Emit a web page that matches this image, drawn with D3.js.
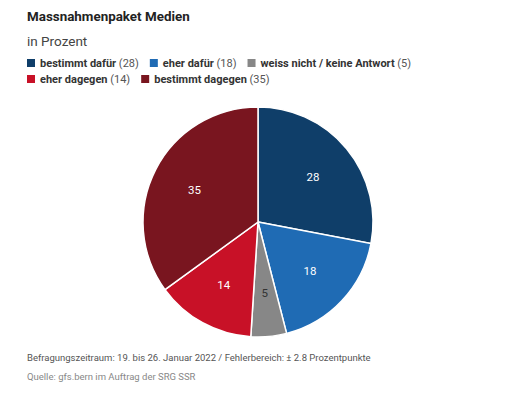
<!DOCTYPE html>
<html>
<head>
<meta charset="utf-8">
<script src="https://cdn.jsdelivr.net/npm/d3@7"></script>
<style>
  body { margin: 0; background: #fff; }
  svg { font-family: Roboto, sans-serif; }
</style>
</head>
<body>
<script>
var categories = ["bestimmt dafür", "eher dafür", "weiss nicht / keine Antwort", "eher dagegen", "bestimmt dagegen"];
var values = [28, 18, 5, 14, 35];
var colors = ["#0f3e69", "#1f6bb4", "#878787", "#c81127", "#79151f"];
var labelColors = ["#fff", "#fff", "#333", "#fff", "#fff"];
var legendRows = [[0, 1, 2], [3, 4]];

var width = 510, height = 394;
var svg = d3.select("body").append("svg").attr("width", width).attr("height", height);

svg.append("text").attr("x", 27).attr("y", 21)
  .attr("font-size", 13.4).attr("font-weight", 700).attr("fill", "#222")
  .text("Massnahmenpaket Medien");
svg.append("text").attr("x", 27).attr("y", 46)
  .attr("font-size", 13.5).attr("fill", "#444")
  .text("in Prozent");

// legend
legendRows.forEach(function (row, r) {
  var x = 27;
  var y = 67 + r * 16;
  row.forEach(function (i) {
    var g = svg.append("g").attr("transform", "translate(" + x + "," + y + ")");
    g.append("rect").attr("x", 0).attr("y", -8).attr("width", 8).attr("height", 8).attr("fill", colors[i]);
    var t = g.append("text").attr("x", 13).attr("y", 0).attr("font-size", 11).attr("fill", "#333");
    t.append("tspan").attr("font-weight", 700).text(categories[i]);
    t.append("tspan").attr("fill", "#555").text(" (" + values[i] + ")");
    x += 13 + t.node().getComputedTextLength() + 11;
  });
});

// pie
var cx = 258, cy = 222, radius = 115;
var pie = d3.pie().sort(null).value(function (d) { return d; });
var arc = d3.arc().innerRadius(0).outerRadius(radius);
var labelArc = d3.arc().innerRadius(radius * 0.62).outerRadius(radius * 0.62);

var pg = svg.append("g").attr("transform", "translate(" + cx + "," + cy + ")");
var arcs = pie(values);
pg.selectAll("path").data(arcs).enter().append("path")
  .attr("d", arc)
  .attr("fill", function (d, i) { return colors[i]; })
  .attr("stroke", "#fff").attr("stroke-width", 1.5);
pg.selectAll("text").data(arcs).enter().append("text")
  .attr("transform", function (d) { return "translate(" + labelArc.centroid(d) + ")"; })
  .attr("text-anchor", "middle").attr("dy", "0.35em")
  .attr("font-size", 11.5)
  .attr("fill", function (d, i) { return labelColors[i]; })
  .text(function (d) { return d.data; });

svg.append("text").attr("x", 27).attr("y", 361)
  .attr("font-size", 9.5).attr("fill", "#555")
  .text("Befragungszeitraum: 19. bis 26. Januar 2022 / Fehlerbereich: ± 2.8 Prozentpunkte");
svg.append("text").attr("x", 27).attr("y", 380)
  .attr("font-size", 9.5).attr("fill", "#888")
  .text("Quelle: gfs.bern im Auftrag der SRG SSR");
</script>
</body>
</html>
